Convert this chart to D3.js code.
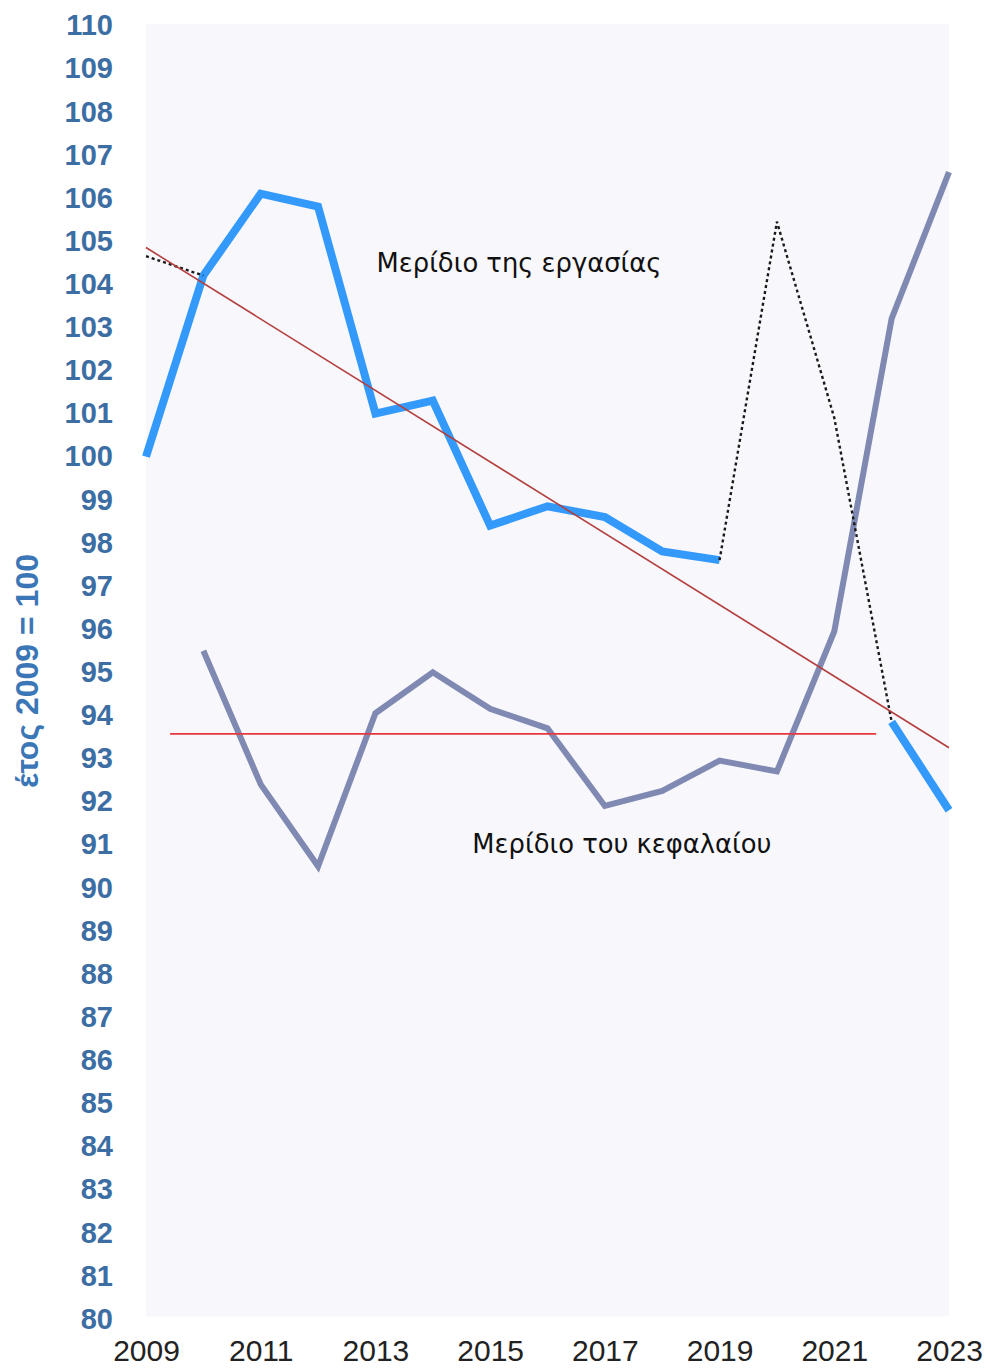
<!DOCTYPE html>
<html>

<head>
  <meta charset="UTF-8">
  <title>Μερίδιο εργασίας και κεφαλαίου, έτος 2009 = 100</title>
  <style>
    body {
      margin: 0;
      background: #fff;
    }

    .axis text {
      font-family: "Liberation Sans", Arial, Helvetica, sans-serif;
    }

    .axis--y text {
      font-size: 29px;
      font-weight: bold;
      fill: #3c6ea3;
    }

    .axis--x text {
      font-size: 30px;
      fill: #222;
    }

    .note {
      font-family: "DejaVu Sans", Verdana, sans-serif;
      font-size: 25.8px;
      fill: #111;
    }
  </style>
</head>

<body>

  <svg width="986" height="1369" id="chart"></svg>

  <script src="https://cdn.jsdelivr.net/npm/d3@7/dist/d3.min.js"></script>

  <script>
    // values (2009 = 100)
    var years = [2009, 2010, 2011, 2012, 2013, 2014, 2015, 2016, 2017, 2018, 2019, 2020, 2021, 2022, 2023];
    var labourShare = [100, 104.2, 106.1, 105.8, 101.0, 101.3, 98.4, 98.85, 98.6, 97.8, 97.6, null, null, 93.85, 91.8];
    var capitalShare = [null, 95.5, 92.4, 90.5, 94.05, 95.0, 94.15, 93.7, 91.9, 92.25, 92.95, 92.7, 95.95, 103.2, 106.6];
    var labourAlt = [104.65, 104.2, null, null, null, null, null, null, null, null, 97.6, 105.45, 100.9, 93.85, null];

    // straight lines
    var trendYears = [2009, 2023];
    var trendValues = [104.85, 93.25];
    var meanYears = [2009.42, 2021.73];
    var meanValues = [93.57, 93.57];

    var yTicks = d3.range(80, 111);
    var xTicks = [2009, 2011, 2013, 2015, 2017, 2019, 2021, 2023];

    var labels = [
      {text: "Μερίδιο της εργασίας", year: 2013.02, value: 104.28},
      {text: "Μερίδιο του κεφαλαίου", year: 2014.69, value: 90.8}
    ];

    var svg = d3.select("#chart");

    var x = d3.scaleLinear().domain([2009, 2023]).range([146, 949]),
      y = d3.scaleLinear().domain([80, 110]).range([1319, 25.5]);

    // plot background
    svg.append("rect")
      .attr("x", x(2009))
      .attr("y", y(110) - 1.5)
      .attr("width", x(2023) - x(2009))
      .attr("height", y(80) - y(110) - 1)
      .attr("fill", "#f7f7fc");

    function pairs(vals) {
      return years.map(function (yr, i) {
        return {year: yr, value: vals[i]};
      });
    }

    var line = d3.line()
      .defined(function (d) { return d.value != null; })
      .x(function (d) { return x(d.year); })
      .y(function (d) { return y(d.value); });

    var plain = d3.line()
      .x(function (d) { return x(d[0]); })
      .y(function (d) { return y(d[1]); });

    svg.append("path")
      .datum(pairs(labourShare))
      .attr("fill", "none")
      .attr("stroke", "#3399fb")
      .attr("stroke-width", 8)
      .attr("stroke-linejoin", "miter")
      .attr("d", line);

    svg.append("path")
      .datum(pairs(capitalShare))
      .attr("fill", "none")
      .attr("stroke", "#7f89b2")
      .attr("stroke-width", 6)
      .attr("d", line);

    svg.append("path")
      .datum(pairs(labourAlt))
      .attr("fill", "none")
      .attr("stroke", "#1a1a1a")
      .attr("stroke-width", 2.4)
      .attr("stroke-dasharray", "3,3")
      .attr("d", line);

    svg.append("path")
      .datum(d3.zip(trendYears, trendValues))
      .attr("fill", "none")
      .attr("stroke", "#b3403f")
      .attr("stroke-width", 1.6)
      .attr("d", plain);

    svg.append("path")
      .datum(d3.zip(meanYears, meanValues))
      .attr("fill", "none")
      .attr("stroke", "#e8373c")
      .attr("stroke-width", 1.6)
      .attr("d", plain);

    // axes
    var yAxis = svg.append("g")
      .attr("class", "axis axis--y")
      .attr("transform", "translate(" + x(2009) + ",0)")
      .call(d3.axisLeft(y).tickValues(yTicks).tickSize(0).tickPadding(33).tickFormat(d3.format("d")));
    yAxis.select(".domain").remove();

    var xAxis = svg.append("g")
      .attr("class", "axis axis--x")
      .attr("transform", "translate(0," + y(80) + ")")
      .call(d3.axisBottom(x).tickValues(xTicks).tickSize(0).tickPadding(21).tickFormat(d3.format("d")));
    xAxis.select(".domain").remove();

    svg.append("text")
      .attr("transform", "translate(38,671) rotate(-90)")
      .attr("text-anchor", "middle")
      .style("font-family", "'Liberation Sans', Arial, sans-serif")
      .style("font-size", "32px")
      .style("font-weight", "bold")
      .style("fill", "#3b77b6")
      .text("έτος 2009 = 100");

    svg.selectAll(".note")
      .data(labels)
      .enter().append("text")
      .attr("class", "note")
      .attr("x", function (d) { return x(d.year); })
      .attr("y", function (d) { return y(d.value); })
      .text(function (d) { return d.text; });
  </script>
</body>

</html>
